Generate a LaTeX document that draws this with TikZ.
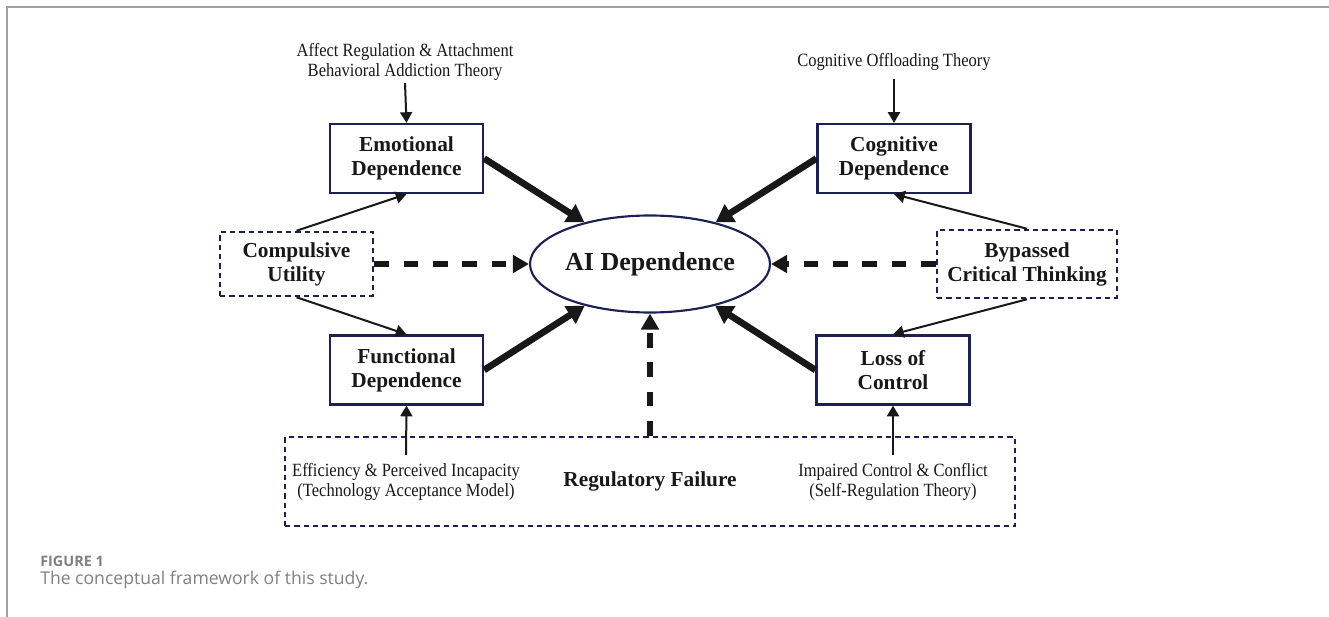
\documentclass[tikz,border=0pt]{standalone}
\usepackage{fontspec}
\setmainfont{Liberation Serif}
\newfontfamily\condfont[FakeStretch=0.885]{Liberation Serif}
\newfontfamily\capfont{Open Sans}
\usetikzlibrary{arrows.meta,shapes.geometric}
\definecolor{navy}{RGB}{28,32,82}
\definecolor{ink}{RGB}{24,24,24}
\definecolor{capgray}{RGB}{128,128,128}
\definecolor{framegray}{RGB}{160,160,160}
\tikzset{
  box/.style={draw=navy, line width=1.7pt, minimum width=114.75pt, minimum height=51.75pt,
    align=center, inner sep=0pt, text=ink, font=\bfseries\fontsize{16}{18}\selectfont},
  dbox/.style={box, dash pattern=on 4pt off 3pt, line width=1.9pt},
  theory/.style={align=center, inner sep=0pt, text=ink, font=\condfont\fontsize{14}{14.5}\selectfont},
  thinarrow/.style={draw=ink, line width=1.5pt, -{Triangle[length=8pt,width=9pt]}},
  thickarrow/.style={draw=ink, line width=5pt, -{Triangle[length=13pt,width=15pt]}},
  dasharrow/.style={draw=ink, line width=4.5pt, dash pattern=on 11pt off 11pt, -{Triangle[length=12pt,width=13pt]}},
}
\begin{document}
\begin{tikzpicture}[x=0.75pt, y=-0.75pt]
\useasboundingbox (0,0) rectangle (1329,617);
% figure frame
\draw[framegray, line width=1.5pt] (7,617) -- (7,7.5) -- (1329,7.5);

% central node
\node[ellipse, draw=navy, line width=1.6pt, minimum width=180pt, minimum height=72.75pt, inner sep=0pt,
  text=ink, font=\bfseries\fontsize{19.5}{22}\selectfont] (ai) at (650,264) {AI Dependence};

% dependence boxes
\node[box] (emo) at (406.5,158.5) {Emotional\\Dependence};
\node[box] (cog) at (894,158.5) {Cognitive\\Dependence};
\node[box] (func) at (406.5,370) {Functional\\Dependence};
\node[box] (loss) at (893,370) {Loss of\\Control};

% dashed boxes
\node[dbox, minimum height=48pt] (comp) at (296.5,264) {Compulsive\\Utility};
\node[dbox, minimum width=135pt, minimum height=51pt] (byp) at (1027,264) {Bypassed\\Critical Thinking};
\node[dbox, minimum width=547.5pt, minimum height=66.75pt] (reg) at (650,481.5) {Regulatory Failure};

% theory texts
\node[theory] (afft) at (405,62) {Affect Regulation \& Attachment\\Behavioral Addiction Theory};
\node[theory] (cogt) at (894,62) {Cognitive Offloading Theory};
\node[theory] (efft) at (406,482) {Efficiency \& Perceived Incapacity\\(Technology Acceptance Model)};
\node[theory] (impt) at (893,482) {Impaired Control \& Conflict\\(Self-Regulation Theory)};

\coordinate (a1) at (405,83);
\coordinate (a2) at (894,79);
\coordinate (a3) at (406,455);
\coordinate (a4) at (893,455);

% theory arrows
\draw[thinarrow] (a1) -- (emo.north);
\draw[thinarrow] (a2) -- (cog.north);
\draw[thinarrow] (a3) -- (func.south);
\draw[thinarrow] (a4) -- (loss.south);

% thin arrows from dashed boxes
\draw[thinarrow] (comp.north) -- (emo.south);
\draw[thinarrow] (comp.south) -- (func.north);
\draw[thinarrow] (byp.north) -- (cog.south);
\draw[thinarrow] (byp.south) -- (loss.north);

% thick arrows into AI Dependence
\draw[thickarrow] (emo.east) -- (ai);
\draw[thickarrow] (cog.west) -- (ai);
\draw[thickarrow] (func.east) -- (ai);
\draw[thickarrow] (loss.west) -- (ai);

% dashed arrows
\draw[dasharrow] (comp.east) -- (ai.west);
\draw[dasharrow] (byp.west) -- (ai.east);
\draw[dasharrow] (reg.north) -- (ai.south);

% caption
\node[anchor=base west, inner sep=0pt, text=capgray, font=\capfont\bfseries\fontsize{10.8}{13}\selectfont] (figlab) at (40,566) {FIGURE 1};
\node[anchor=base west, inner sep=0pt, text=capgray, font=\capfont\fontsize{13.2}{16}\selectfont] (figcap) at (40,584) {The conceptual framework of this study.};
\end{tikzpicture}
\end{document}
